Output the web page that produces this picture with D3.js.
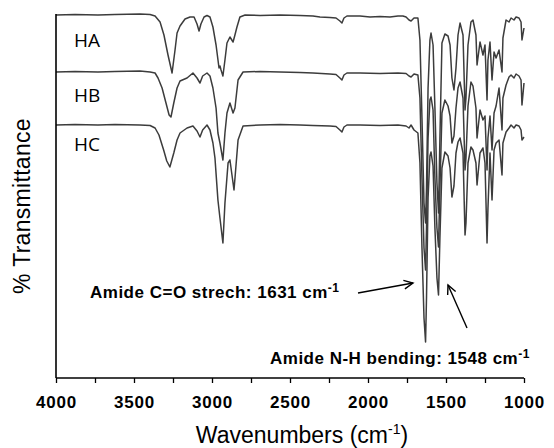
<!DOCTYPE html>
<html>
<head>
<meta charset="utf-8">
<script src="https://cdn.jsdelivr.net/npm/d3@7"></script>
<style>
  body { margin: 0; background: #fff; }
  svg { display: block; font-family: "Liberation Sans", Arial, sans-serif; }
</style>
</head>
<body>
<svg id="chart" width="554" height="448"></svg>
<script>
// wavenumber (cm-1) / transmittance (a.u.)
const wavenumbers = [4000, 3500, 3000, 2500, 2000, 1500, 1000]
const sampleNames = ["HA", "HB", "HC"]

const haData = [
  [4000,363],[3878,363.5],[3731,363],[3622,363.5],[3462,364],[3397,363.5],[3365,362],[3333,356],[3308,343],
  [3282,323],[3256,305],[3237,328],[3224,345],[3205,352],[3173,359],[3141,361],[3115,361],[3096,354],[3083,347],
  [3071,354],[3051,361],[3032,362.5],[3013,361],[2994,351],[2974,333],[2955,310],[2949,312],[2942,308],[2930,302],
  [2917,318],[2904,335],[2885,341],[2865,336],[2853,343],[2840,351],[2821,361],[2788,363],[2692,362.5],[2564,363],
  [2436,362.5],[2353,362],[2308,361],[2244,360.5],[2205,360],[2180,357],[2167,355],[2154,360],[2135,362],[2051,362],
  [1987,361],[1923,361.5],[1859,361],[1808,362],[1776,362],[1756,361],[1737,358],[1724,357],[1705,360],[1680,360],
  [1667,338],[1654,260],[1641,175],[1631,155],[1625,190],[1615,290],[1603,338],[1596,345],[1583,333],[1571,270],
  [1558,195],[1548,165],[1539,240],[1526,335],[1507,344],[1487,342],[1474,333],[1462,300],[1449,288],[1436,310],
  [1423,343],[1410,355],[1391,343],[1378,268],[1372,280],[1359,333],[1340,356],[1327,358],[1308,343],[1301,313],
  [1282,336],[1263,323],[1250,333],[1237,278],[1231,318],[1218,336],[1205,298],[1192,326],[1179,320],[1160,328],
  [1141,306],[1135,340],[1115,358],[1096,356],[1083,360],[1064,358],[1051,361],[1032,360],[1019,356],[1013,338],[1000,350]
]

const hbData = [
  [4000,306],[3878,306.5],[3731,306],[3622,306.5],[3462,307],[3397,306],[3365,305],[3346,300],[3320,290],[3295,275],
  [3275,263],[3263,261],[3245,275],[3224,290],[3205,297],[3160,300],[3122,305],[3096,300],[3077,295],[3060,302],
  [3032,305],[3013,302],[2994,290],[2974,270],[2962,245],[2949,235],[2930,218],[2917,245],[2904,265],[2885,275],
  [2865,265],[2853,270],[2833,298],[2801,306],[2692,306.5],[2564,306],[2436,305.5],[2353,305],[2244,304],[2205,303.5],
  [2180,300],[2167,298],[2154,303],[2135,305],[2051,305],[1923,304.5],[1808,305],[1756,304.5],[1737,302],[1724,301],
  [1705,304],[1680,303],[1667,280],[1654,200],[1641,130],[1631,108],[1625,150],[1615,240],[1603,278],[1596,281],
  [1583,268],[1571,200],[1558,150],[1548,131],[1539,190],[1526,265],[1507,278],[1487,272],[1474,262],[1462,235],
  [1449,242],[1436,270],[1423,290],[1410,296],[1391,280],[1378,208],[1372,220],[1359,272],[1340,296],[1327,292],
  [1308,270],[1301,240],[1282,268],[1263,258],[1250,262],[1237,208],[1231,240],[1218,262],[1205,228],[1192,265],
  [1179,272],[1160,290],[1141,248],[1135,280],[1115,293],[1096,301],[1083,303],[1064,300],[1051,304],[1032,302],
  [1019,298],[1013,273],[1000,295]
]

const hcData = [
  [4000,253],[3878,253.5],[3731,253],[3622,253.5],[3462,253],[3397,252.5],[3365,250],[3340,243],[3310,228],[3290,217],
  [3270,211],[3245,225],[3224,238],[3205,245],[3160,250],[3122,252],[3096,247],[3077,241],[3060,248],[3032,253],
  [3013,248],[2994,235],[2981,220],[2962,178],[2949,160],[2930,135],[2917,175],[2897,215],[2885,218],[2865,195],
  [2859,188],[2850,205],[2833,238],[2801,252],[2692,253],[2564,253.5],[2436,253],[2353,252.5],[2244,252],[2205,251.5],
  [2180,248],[2167,246],[2154,251],[2135,253],[2051,253],[1923,252.5],[1808,253],[1756,252],[1737,250],[1724,253],
  [1705,248],[1680,245],[1667,215],[1654,130],[1641,60],[1631,36],[1625,80],[1615,180],[1603,222],[1596,226],
  [1583,212],[1571,150],[1558,100],[1548,83],[1539,140],[1526,210],[1507,226],[1487,222],[1474,210],[1462,181],
  [1449,192],[1436,225],[1423,236],[1410,240],[1391,225],[1378,143],[1372,155],[1359,215],[1340,231],[1327,228],
  [1308,215],[1301,193],[1282,225],[1263,230],[1250,215],[1237,135],[1231,170],[1218,225],[1205,178],[1192,228],
  [1179,235],[1160,238],[1141,203],[1135,235],[1115,246],[1096,250],[1083,253],[1064,250],[1051,253],[1032,252],
  [1019,248],[1013,238],[1000,241]
]

const svg = d3.select("#chart")

const x = d3.scaleLinear().domain([4000, 1000]).range([56, 524])
const y = d3.scaleLinear().domain([0, 364]).range([378, 14])

const line = d3.line()
  .x(d => x(d[0]))
  .y(d => y(d[1]))

svg.selectAll("path.spectrum")
  .data([haData, hbData, hcData])
  .enter()
  .append("path")
  .attr("class", "spectrum")
  .attr("d", line)
  .attr("fill", "none")
  .attr("stroke", "#3c3c3c")
  .attr("stroke-width", 1.5)
  .attr("stroke-linejoin", "round")

// sample labels
const labelY = [47, 102, 151]
svg.selectAll("text.sample")
  .data(sampleNames)
  .enter()
  .append("text")
  .attr("class", "sample")
  .attr("x", 74)
  .attr("y", (d, i) => labelY[i])
  .attr("font-family", "'Open Sans', sans-serif")
  .attr("font-size", 19)
  .text(d => d)

// axes
const xAxis = d3.axisBottom(x)
  .tickValues(d3.range(4000, 999, -250))
  .tickSize(5)
  .tickFormat(d => wavenumbers.includes(d) ? d : "")

const gx = svg.append("g")
  .attr("transform", `translate(0,${y(0)})`)
  .call(xAxis)
gx.select(".domain").attr("d", `M${x(4000)},0H${x(1000)}`).attr("stroke-width", 1.6)
gx.selectAll(".tick line").attr("stroke-width", 1.3)
gx.selectAll(".tick text")
  .attr("dy", 0)
  .attr("y", 30)
  .attr("font-family", "'Liberation Sans', Arial, sans-serif")
  .attr("font-size", 17)
  .attr("font-weight", "bold")
  .attr("letter-spacing", 0.8)
  .attr("fill", "#000")

svg.append("line")
  .attr("x1", x(4000)).attr("x2", x(4000))
  .attr("y1", y(364)).attr("y2", y(0))
  .attr("stroke", "#000")
  .attr("stroke-width", 1.6)

// axis titles
const xt = svg.append("text")
  .attr("x", 302)
  .attr("y", 443)
  .attr("text-anchor", "middle")
  .attr("font-size", 23)
xt.append("tspan").text("Wavenumbers (cm")
xt.append("tspan").attr("font-size", 14).attr("dy", -9).text("-1")
xt.append("tspan").attr("dy", 9).text(")")

svg.append("text")
  .attr("transform", "translate(30,206) rotate(-90)")
  .attr("text-anchor", "middle")
  .attr("font-size", 23)
  .attr("letter-spacing", 0.3)
  .text("% Transmittance")

// annotations
const note1 = svg.append("text")
  .attr("x", 90).attr("y", 298)
  .attr("font-size", 17).attr("font-weight", "bold")
  .attr("letter-spacing", 0.5)
note1.append("tspan").text("Amide C=O strech: 1631 cm")
note1.append("tspan").attr("font-size", 12).attr("dy", -6).text("-1")

const note2 = svg.append("text")
  .attr("x", 270).attr("y", 364)
  .attr("font-size", 17).attr("font-weight", "bold")
  .attr("letter-spacing", 0.5)
note2.append("tspan").text("Amide N-H bending: 1548 cm")
note2.append("tspan").attr("font-size", 12).attr("dy", -6).text("-1")

const arrows = [
  [[358, 293], [413, 283]],
  [[467, 328], [448, 285]]
]
arrows.forEach(([a, b]) => {
  const ang = Math.atan2(b[1] - a[1], b[0] - a[0])
  const head = 10, spread = 0.45
  svg.append("line")
    .attr("x1", a[0]).attr("y1", a[1]).attr("x2", b[0]).attr("y2", b[1])
    .attr("stroke", "#000").attr("stroke-width", 1.4)
  svg.append("path")
    .attr("d", `M${b[0] - head * Math.cos(ang - spread)},${b[1] - head * Math.sin(ang - spread)}L${b[0]},${b[1]}L${b[0] - head * Math.cos(ang + spread)},${b[1] - head * Math.sin(ang + spread)}`)
    .attr("fill", "none").attr("stroke", "#000").attr("stroke-width", 1.4)
})
</script>
</body>
</html>
